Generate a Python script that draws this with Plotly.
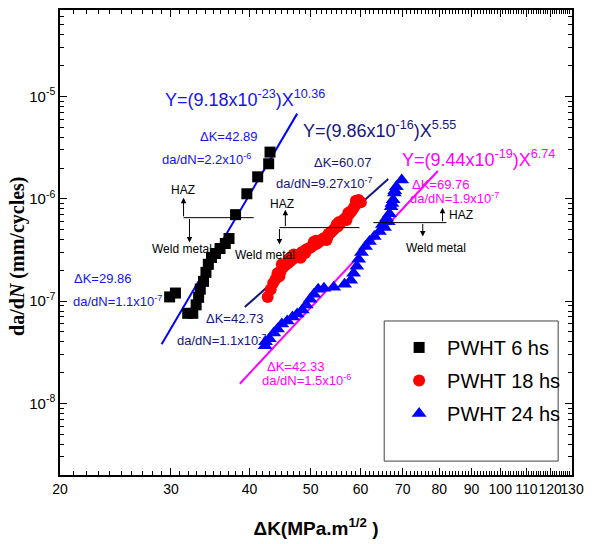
import numpy as np
import plotly.graph_objects as go

# ---- measured crack growth data: ΔK (MPa·m^1/2) vs da/dN (mm/cycle) ----
dk_6h = [29.86, 30.5, 31.9, 32.5, 32.9, 33.2, 33.4, 33.8, 34.1, 34.4, 34.8, 35.3,
         35.9, 36.6, 37.1, 38.0, 39.6, 41.2, 42.89, 43.1]
dadn_6h = [1.1e-7, 1.2e-7, 7.6e-8, 7.6e-8, 9.2e-8, 1.09e-7, 1.31e-7, 1.56e-7, 1.91e-7,
           2.29e-7, 2.67e-7, 2.92e-7, 3.27e-7, 3.66e-7, 4.09e-7, 7.0e-7, 1.12e-6,
           1.64e-6, 2.2e-6, 2.86e-6]

dk_18h = [42.73, 43.2, 43.6, 44.0, 44.3, 44.6, 44.8, 45.2, 45.6, 46.0, 46.2, 46.4,
          46.8, 47.2, 47.6, 48.0, 48.2, 48.4, 48.8, 49.2, 49.6, 50.0, 50.4, 50.6,
          50.8, 51.2, 51.6, 52.0, 52.4, 52.8, 53.0, 53.2, 53.6, 54.0, 54.4, 54.8,
          55.0, 55.2, 55.6, 56.0, 56.4, 56.8, 57.0, 57.2, 57.6, 58.0, 58.4, 58.8,
          59.0, 59.2, 59.6, 60.07, 45.0, 47.0, 49.0, 51.0, 53.4, 55.4, 57.4]
dadn_18h = [1.1e-7, 1.3e-7, 1.5e-7, 1.65e-7, 1.87e-7, 1.75e-7, 1.95e-7, 2.14e-7,
            2.25e-7, 2.35e-7, 2.6e-7, 2.45e-7, 2.56e-7, 2.68e-7, 2.74e-7, 2.86e-7,
            2.65e-7, 3.0e-7, 3.06e-7, 3.2e-7, 3.27e-7, 3.35e-7, 3.5e-7, 3.8e-7,
            3.57e-7, 3.66e-7, 3.83e-7, 3.91e-7, 4.1e-7, 4.18e-7, 3.95e-7, 4.28e-7,
            4.58e-7, 4.8e-7, 5.0e-7, 5.24e-7, 5.6e-7, 5.36e-7, 5.7e-7, 6.0e-7,
            6.25e-7, 6.5e-7, 6.2e-7, 6.8e-7, 7.15e-7, 7.5e-7, 8.0e-7, 8.55e-7,
            9.6e-7, 9.1e-7, 9.75e-7, 9.27e-7, 2.3e-7, 2.85e-7, 2.95e-7, 3.9e-7,
            4.55e-7, 5.9e-7, 7.3e-7]

dk_24h = [42.33, 42.4, 43.0, 43.7, 44.3, 45.0, 45.9, 46.8, 47.6, 48.5, 49.2, 49.9,
          50.6, 51.4, 52.5, 54.4, 56.6, 57.9, 58.5, 59.2, 59.6, 60.2, 61.1, 62.0,
          63.1, 64.3, 65.0, 65.5, 66.0, 66.4, 66.7, 67.1, 67.3, 67.6, 67.9, 68.0,
          68.4, 69.76]
dadn_24h = [3.66e-8, 4.0e-8, 4.28e-8, 4.89e-8, 5.35e-8, 5.98e-8, 6.4e-8, 7.0e-8,
            7.48e-8, 8.18e-8, 9.15e-8, 1.045e-7, 1.17e-7, 1.31e-7, 1.34e-7, 1.37e-7,
            1.46e-7, 1.6e-7, 1.87e-7, 2.19e-7, 2.56e-7, 2.99e-7, 3.42e-7, 3.82e-7,
            4.28e-7, 4.78e-7, 5.6e-7, 5.23e-7, 6.5e-7, 5.98e-7, 7.15e-7, 8.36e-7,
            9.0e-7, 9.78e-7, 1.14e-6, 1.2e-6, 1.31e-6, 1.53e-6]

# Paris-law fit segments (end points)
fit_6h_dk, fit_6h_dadn = [29.0, 47.6], [3.8e-8, 6.8e-6]
fit_18h_dk, fit_18h_dadn = [39.3, 66.4], [8.75e-8, 1.56e-6]
fit_24h_dk, fit_24h_dadn = [38.6, 79.6], [1.56e-8, 1.87e-6]

x_ticks = [20, 30, 40, 50, 60, 70, 80, 90, 100, 110, 120, 130]
y_ticks = [1e-8, 1e-7, 1e-6, 1e-5]
y_tick_text = ["10<sup>-8</sup>", "10<sup>-7</sup>", "10<sup>-6</sup>", "10<sup>-5</sup>"]

# ---- page geometry ----
W, H = 592, 544
L, R, T, B = 60, 578, 8, 476


def P(px, py):
    """pixel position on the page -> paper coordinates"""
    return (px - L) / (R - L), (B - py) / (B - T)


ARIAL = "Arial, Liberation Sans, sans-serif"
SERIF = "Liberation Serif, Times New Roman, serif"
BLUE = "#0000FF"
TXT_BLUE = "#1414F0"
NAVY = "#16167A"
MAGENTA = "#FF00FF"

fig = go.Figure()

fig.add_trace(go.Scatter(x=fit_6h_dk, y=fit_6h_dadn, mode="lines",
                         line=dict(color=BLUE, width=2), showlegend=False))
fig.add_trace(go.Scatter(x=fit_18h_dk, y=fit_18h_dadn, mode="lines",
                         line=dict(color=NAVY, width=2), showlegend=False))
fig.add_trace(go.Scatter(x=fit_24h_dk, y=fit_24h_dadn, mode="lines",
                         line=dict(color=MAGENTA, width=2), showlegend=False))

fig.add_trace(go.Scatter(x=dk_6h, y=dadn_6h, mode="markers", name="PWHT 6 hs",
                         legendgroup="a",
                         marker=dict(symbol="square", size=11, color="black")))
fig.add_trace(go.Scatter(x=dk_18h, y=dadn_18h, mode="markers", name="PWHT 18 hs",
                         legendgroup="b",
                         marker=dict(symbol="circle", size=12, color="#FF0000")))
fig.add_trace(go.Scatter(x=dk_24h, y=dadn_24h, mode="markers", name="PWHT 24 hs",
                         legendgroup="c",
                         marker=dict(symbol="triangle-up", size=13, color=BLUE)))

annotations = []


def label(text, px, py, color, size, anchor="left", family=ARIAL, angle=0):
    x, y = P(px, py)
    annotations.append(dict(text=text, x=x, y=y, xref="paper", yref="paper",
                            xanchor=anchor, yanchor="middle", showarrow=False,
                            borderpad=0, textangle=angle,
                            font=dict(family=family, size=size, color=color)))


def arrow(px, py_tip, py_tail):
    x, y = P(px, py_tip)
    annotations.append(dict(text="", x=x, y=y, xref="paper", yref="paper",
                            ax=0, ay=py_tail - py_tip, showarrow=True,
                            arrowhead=2, arrowsize=1.1, arrowwidth=1,
                            arrowcolor="black"))


# fit equations
EQ = 18
label("Y=(9.18x10<sup>-23</sup>)X<sup>10.36</sup>", 165, 97, TXT_BLUE, EQ)
label("Y=(9.86x10<sup>-16</sup>)X<sup>5.55</sup>", 305, 128, NAVY, EQ)
label("Y=(9.44x10<sup>-19</sup>)X<sup>6.74</sup>", 405, 157, MAGENTA, EQ)

# threshold / end point notes
NOTE = 13
label("ΔK=42.89", 230, 135, TXT_BLUE, NOTE, "center")
label("da/dN=2.2x10<sup>-6</sup>", 162, 158, TXT_BLUE, NOTE)
label("ΔK=60.07", 346, 161, NAVY, NOTE, "center")
label("da/dN=9.27x10<sup>-7</sup>", 278, 182, NAVY, NOTE)
label("ΔK=69.76", 415, 184, MAGENTA, NOTE)
label("da/dN=1.9x10<sup>-7</sup>", 413, 197, MAGENTA, NOTE)
label("ΔK=29.86", 73, 278, TXT_BLUE, NOTE)
label("da/dN=1.1x10<sup>-7</sup>", 72, 301, TXT_BLUE, NOTE)
label("ΔK=42.73", 207, 318, NAVY, NOTE)
label("da/dN=1.1x10<sup>-7</sup>", 177, 340, NAVY, NOTE)
label("ΔK=42.33", 268, 367, MAGENTA, NOTE)
label("da/dN=1.5x10<sup>-6</sup>", 263, 380, MAGENTA, NOTE)

# HAZ / weld metal boundaries
shapes = []
for (x0, x1, yl) in [(185, 256, 217), (282, 363, 227), (377, 451, 222)]:
    a, b = P(x0, yl)
    c, _ = P(x1, yl)
    shapes.append(dict(type="line", xref="paper", yref="paper", x0=a, x1=c, y0=b, y1=b,
                       line=dict(color="black", width=1)))

SMALL = 12
arrow(185, 197, 217)
arrow(191, 242, 217)
label("HAZ", 184, 189, "black", SMALL, "center")
label("Weld metal", 183, 249, "black", SMALL, "center")

arrow(288, 209, 227)
arrow(282, 244, 227)
label("HAZ", 285, 203, "black", SMALL, "center")
label("Weld metal", 267, 255, "black", SMALL, "center")

arrow(447, 207, 222)
arrow(427, 236, 222)
label("HAZ", 453, 214, "black", SMALL, "left")
label("Weld metal", 440, 248, "black", SMALL, "center")

# axis title for da/dN, placed beside the tick labels
label("<b>da/d<i>N</i> (mm/cycles)</b>", 17, 256, "black", 20, "center", SERIF, -90)

# legend frame
lx0, ly0 = P(388, 321)
lx1, ly1 = P(564, 462)
shapes.append(dict(type="rect", xref="paper", yref="paper", x0=lx0, x1=lx1, y0=ly1, y1=ly0,
                   line=dict(color="#404040", width=1), fillcolor="white", layer="below"))

x_minor = [v for v in range(21, 130) if v not in x_ticks]
y_minor = [k * 10.0 ** e for e in range(-9, -4) for k in range(2, 10)
           if 2e-9 <= k * 10.0 ** e <= 7e-5]

axis_common = dict(showgrid=False, zeroline=False, showline=True, linecolor="black",
                   linewidth=1.5, mirror="allticks", ticks="inside", ticklen=7,
                   tickwidth=1.2, tickcolor="black", tickangle=0)

leg_x, leg_y = P(395, 328)

fig.update_layout(
    width=W, height=H, autosize=False,
    margin=dict(l=L, r=W - R, t=T, b=H - B),
    paper_bgcolor="white", plot_bgcolor="white",
    xaxis=dict(type="log", range=[np.log10(20), np.log10(130)],
               tickmode="array", tickvals=x_ticks,
               ticktext=[str(v) for v in x_ticks],
               tickfont=dict(family=ARIAL, size=14, color="black"),
               minor=dict(tickmode="array", tickvals=x_minor, ticks="inside",
                          ticklen=4, tickwidth=1, tickcolor="black"),
               title=dict(text="<b>ΔK(MPa.m<sup>1/2</sup> )</b>",
                          font=dict(family=ARIAL, size=19, color="black"),
                          standoff=26),
               **axis_common),
    yaxis=dict(type="log", range=[np.log10(2e-9), np.log10(7e-5)],
               tickmode="array", tickvals=y_ticks, ticktext=y_tick_text,
               tickfont=dict(family=ARIAL, size=15, color="black"),
               minor=dict(tickmode="array", tickvals=y_minor, ticks="inside",
                          ticklen=4, tickwidth=1, tickcolor="black"),
               **axis_common),
    legend=dict(x=leg_x, y=leg_y, xanchor="left", yanchor="top",
                bgcolor="rgba(0,0,0,0)", borderwidth=0, tracegroupgap=4,
                itemwidth=46,
                font=dict(family=ARIAL, size=20, color="black")),
    annotations=annotations,
    shapes=shapes,
)

fig.write_html("out.html")
